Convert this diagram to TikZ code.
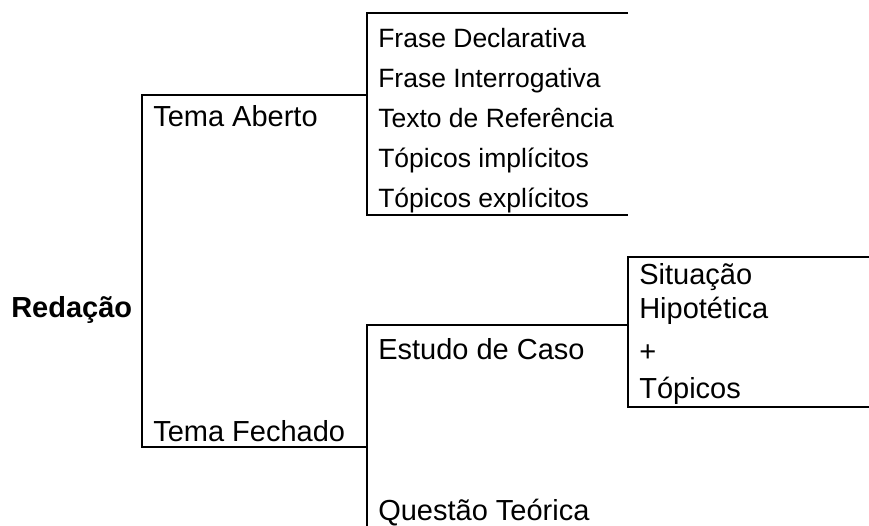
\documentclass[tikz,border=0pt]{standalone}
\usepackage{fontspec}
\setmainfont{Liberation Sans}
\begin{document}
\begin{tikzpicture}[x=1pt,y=-1pt,line width=2.6pt,
  lbl/.style={anchor=base west,inner sep=0pt,font=\fontsize{29}{34}\selectfont},
  item/.style={lbl,font=\fontsize{26.5}{31}\selectfont}]
\useasboundingbox (0,0) rectangle (869,526);

% corners of the brackets
\coordinate (rTop) at (142,95);
\coordinate (rBot) at (142,447);
\coordinate (aTop) at (367,13);
\coordinate (aMid) at (367,95);
\coordinate (aBot) at (367,215);
\coordinate (aTopEnd) at (628,13);
\coordinate (aBotEnd) at (628,215);
\coordinate (fMid) at (367,447);
\coordinate (fTop) at (367,325);
\coordinate (fEnd) at (367,526);
\coordinate (cTop) at (628,257);
\coordinate (cMid) at (628,325);
\coordinate (cBot) at (628,407);
\coordinate (cTopEnd) at (869,257);
\coordinate (cBotEnd) at (869,407);

% labels
\node[lbl,font=\fontsize{29}{34}\selectfont\bfseries] (red) at (10,317) {Redação};
\node[lbl] (aberto) at (152,127) {Tema Aberto};
\node[lbl] (fechado) at (152,441) {Tema Fechado};
\node[item] (decl) at (377,48) {Frase Declarativa};
\node[item] (interr) at (377,88) {Frase Interrogativa};
\node[item] (refer) at (377,128) {Texto de Referência};
\node[item] (impl) at (377,168) {Tópicos implícitos};
\node[item] (expl) at (377,208) {Tópicos explícitos};
\node[lbl] (caso) at (377,359) {Estudo de Caso};
\node[lbl] (teor) at (377,520) {Questão Teórica};
\node[lbl] (sit) at (638,285) {Situação};
\node[lbl] (hip) at (638,318) {Hipotética};
\node[lbl] (plus) at (638,361) {+};
\node[lbl] (top) at (638,398) {Tópicos};

% brackets
\draw (aMid) -- (rTop) -- (rBot) -- (fMid);
\draw (aTopEnd) -- (aTop) -- (aBot) -- (aBotEnd);
\draw (fEnd) -- (fTop) -- (cMid);
\draw (cTopEnd) -- (cTop) -- (cBot) -- (cBotEnd);

\end{tikzpicture}
\end{document}
